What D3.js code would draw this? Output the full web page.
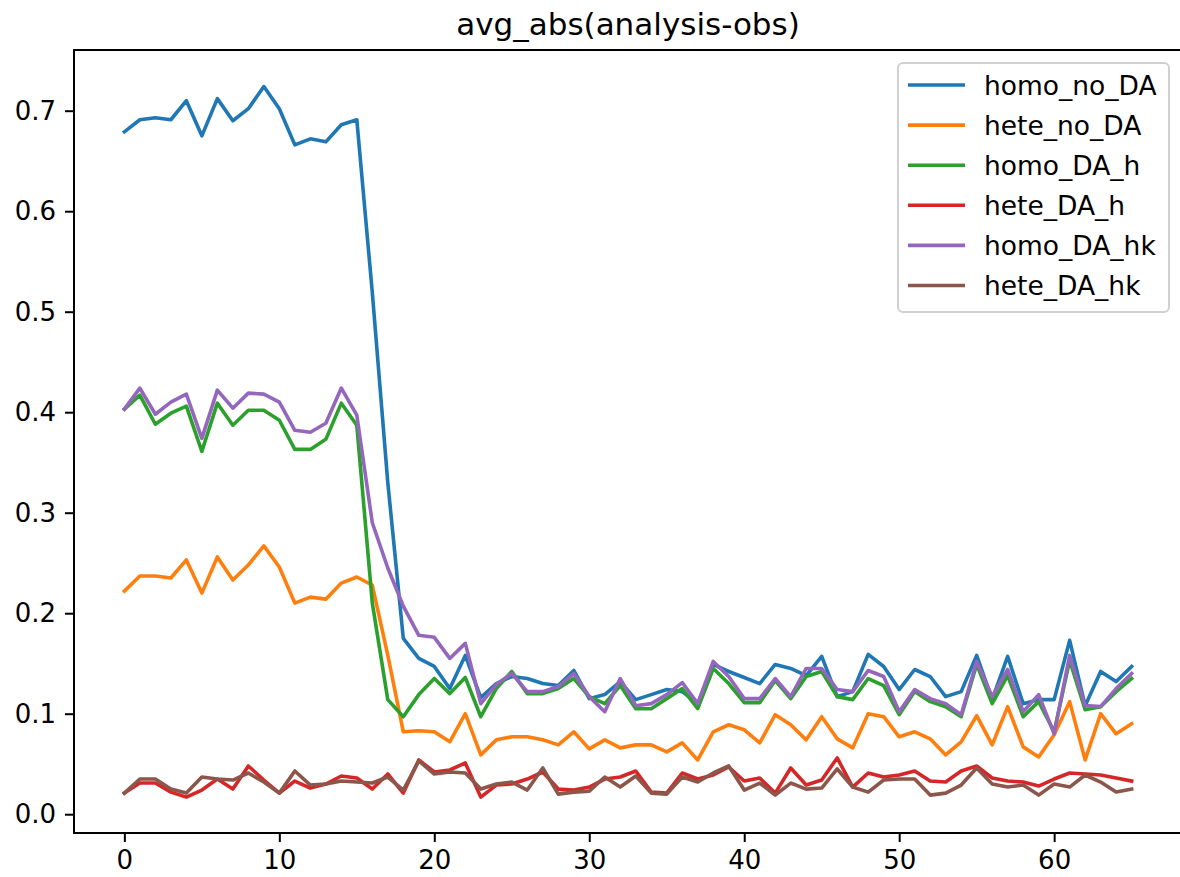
<!DOCTYPE html>
<html>
<head>
<meta charset="utf-8">
<script src="https://cdn.jsdelivr.net/npm/d3@7"></script>
<style>
  body { margin: 0; background: #fff; }
  svg text { font-family: "DejaVu Sans", sans-serif; }
</style>
</head>
<body>
<div id="chart"></div>
<script>
// Data (x = 0..65)
var seriesNames = ["homo_no_DA", "hete_no_DA", "homo_DA_h", "hete_DA_h", "homo_DA_hk", "hete_DA_hk"];
var seriesColors = ["#1f77b4", "#ff7f0e", "#2ca02c", "#d62728", "#9467bd", "#8c564b"];

var homoNoDA = [0.679, 0.691, 0.693, 0.691, 0.710, 0.675, 0.712, 0.690, 0.702, 0.724,
    0.702, 0.666, 0.672, 0.669, 0.686, 0.691, 0.519, 0.330, 0.175, 0.155,
    0.147, 0.125, 0.158, 0.116, 0.130, 0.137, 0.135, 0.130, 0.128, 0.143,
    0.115, 0.119, 0.132, 0.114, 0.119, 0.124, 0.122, 0.110, 0.149, 0.142,
    0.136, 0.130, 0.149, 0.145, 0.138, 0.157, 0.117, 0.122, 0.159, 0.147,
    0.124, 0.144, 0.137, 0.117, 0.122, 0.158, 0.114, 0.157, 0.110, 0.114,
    0.114, 0.173, 0.108, 0.142, 0.132, 0.147];

var heteNoDA = [0.222, 0.237, 0.237, 0.235, 0.253, 0.220, 0.256, 0.233, 0.248, 0.267,
    0.246, 0.210, 0.216, 0.214, 0.230, 0.236, 0.228, 0.158, 0.082, 0.083,
    0.082, 0.072, 0.100, 0.059, 0.074, 0.077, 0.077, 0.074, 0.069, 0.082,
    0.065, 0.074, 0.066, 0.069, 0.069, 0.062, 0.071, 0.054, 0.082, 0.089,
    0.084, 0.071, 0.099, 0.089, 0.074, 0.097, 0.075, 0.066, 0.100, 0.097,
    0.077, 0.082, 0.075, 0.059, 0.072, 0.098, 0.069, 0.107, 0.067, 0.057,
    0.079, 0.112, 0.054, 0.100, 0.080, 0.090];

var homoDAh = [0.403, 0.417, 0.388, 0.399, 0.406, 0.361, 0.409, 0.387, 0.402, 0.402,
    0.392, 0.363, 0.363, 0.373, 0.409, 0.387, 0.210, 0.114, 0.097, 0.119,
    0.135, 0.120, 0.136, 0.097, 0.125, 0.142, 0.120, 0.120, 0.125, 0.135,
    0.117, 0.110, 0.128, 0.105, 0.105, 0.115, 0.125, 0.105, 0.145, 0.130,
    0.111, 0.111, 0.133, 0.115, 0.137, 0.142, 0.117, 0.114, 0.135, 0.128,
    0.099, 0.122, 0.112, 0.107, 0.097, 0.149, 0.110, 0.138, 0.097, 0.112,
    0.082, 0.153, 0.104, 0.107, 0.122, 0.135];

var heteDAh = [0.021, 0.031, 0.031, 0.022, 0.017, 0.024, 0.035, 0.025, 0.048, 0.034,
    0.021, 0.033, 0.026, 0.030, 0.038, 0.036, 0.025, 0.040, 0.021, 0.054,
    0.042, 0.044, 0.051, 0.017, 0.029, 0.030, 0.035, 0.042, 0.025, 0.024,
    0.027, 0.035, 0.037, 0.043, 0.022, 0.021, 0.041, 0.035, 0.039, 0.047,
    0.033, 0.036, 0.021, 0.046, 0.029, 0.034, 0.056, 0.027, 0.041, 0.037,
    0.039, 0.043, 0.033, 0.032, 0.043, 0.048, 0.036, 0.033, 0.032, 0.028,
    0.035, 0.041, 0.040, 0.039, 0.036, 0.033];

var homoDAhk = [0.403, 0.424, 0.398, 0.410, 0.418, 0.374, 0.422, 0.404, 0.419, 0.418,
    0.410, 0.382, 0.380, 0.389, 0.424, 0.397, 0.290, 0.245, 0.207, 0.178,
    0.176, 0.155, 0.170, 0.110, 0.129, 0.140, 0.122, 0.122, 0.127, 0.140,
    0.117, 0.102, 0.135, 0.108, 0.110, 0.119, 0.131, 0.110, 0.152, 0.137,
    0.115, 0.115, 0.135, 0.117, 0.145, 0.145, 0.124, 0.122, 0.143, 0.137,
    0.102, 0.124, 0.115, 0.110, 0.099, 0.152, 0.117, 0.144, 0.102, 0.119,
    0.080, 0.158, 0.108, 0.107, 0.125, 0.140];

var heteDAhk = [0.021, 0.035, 0.035, 0.025, 0.021, 0.037, 0.035, 0.034, 0.041, 0.032,
    0.021, 0.043, 0.029, 0.030, 0.033, 0.032, 0.031, 0.037, 0.024, 0.053,
    0.040, 0.042, 0.041, 0.025, 0.030, 0.032, 0.024, 0.046, 0.020, 0.022,
    0.023, 0.037, 0.027, 0.038, 0.021, 0.020, 0.037, 0.032, 0.041, 0.048,
    0.024, 0.031, 0.019, 0.031, 0.025, 0.026, 0.045, 0.027, 0.022, 0.034,
    0.035, 0.035, 0.019, 0.021, 0.029, 0.046, 0.030, 0.027, 0.029, 0.019,
    0.030, 0.027, 0.039, 0.032, 0.022, 0.025];

var xTicks = [0, 10, 20, 30, 40, 50, 60];
var yTicks = [0.0, 0.1, 0.2, 0.3, 0.4, 0.5, 0.6, 0.7];
var chartTitle = "avg_abs(analysis-obs)";

function drawLineChart() {
    var allSeries = [homoNoDA, heteNoDA, homoDAh, heteDAh, homoDAhk, heteDAhk];

    var width = 1180, height = 877;
    // axes box (right spine falls just outside the picture, as in the reference)
    var plot = {left: 74, top: 50, right: 1182, bottom: 833};

    var svg = d3.select("#chart").append("svg")
        .attr("width", width)
        .attr("height", height);

    var xScale = d3.scaleLinear()
        .domain([-3.25, 68.25])
        .range([plot.left, plot.right]);

    var yScale = d3.scaleLinear()
        .domain([-0.0187, 0.7604])
        .range([plot.bottom, plot.top]);

    // Lines
    var line = d3.line()
        .x(function(d, i) { return xScale(i); })
        .y(function(d) { return yScale(d); });

    svg.append("g").selectAll("path")
        .data(allSeries)
        .enter().append("path")
        .attr("d", line)
        .attr("fill", "none")
        .attr("stroke", function(d, i) { return seriesColors[i]; })
        .attr("stroke-width", 3.6)
        .attr("stroke-linejoin", "round")
        .attr("stroke-linecap", "square");

    // Axes
    var xAxis = svg.append("g")
        .attr("transform", "translate(0," + plot.bottom + ")")
        .call(d3.axisBottom(xScale).tickValues(xTicks).tickSize(9).tickPadding(9));

    var yAxis = svg.append("g")
        .attr("transform", "translate(" + plot.left + ",0)")
        .call(d3.axisLeft(yScale).tickValues(yTicks).tickFormat(d3.format(".1f")).tickSize(9).tickPadding(9));

    [xAxis, yAxis].forEach(function(ax) {
        ax.select(".domain").remove();
        ax.selectAll(".tick line").attr("stroke", "#000").attr("stroke-width", 2);
        ax.selectAll(".tick text")
            .attr("fill", "#000")
            .style("font-size", "26px");
    });

    // Spines
    svg.append("rect")
        .attr("x", plot.left)
        .attr("y", plot.top)
        .attr("width", plot.right - plot.left)
        .attr("height", plot.bottom - plot.top)
        .attr("fill", "none")
        .attr("stroke", "#000")
        .attr("stroke-width", 2);

    // Title
    svg.append("text")
        .attr("x", (plot.left + plot.right) / 2)
        .attr("y", 35)
        .attr("text-anchor", "middle")
        .style("font-size", "31px")
        .text(chartTitle);

    // Legend
    var legend = svg.append("g");
    legend.append("rect")
        .attr("x", 898)
        .attr("y", 63)
        .attr("width", 271)
        .attr("height", 249)
        .attr("rx", 5)
        .attr("fill", "#fff")
        .attr("fill-opacity", 0.8)
        .attr("stroke", "#d0d0d0")
        .attr("stroke-width", 2);

    var rows = legend.selectAll(".entry")
        .data(seriesNames)
        .enter().append("g")
        .attr("class", "entry")
        .attr("transform", function(d, i) { return "translate(0," + (85 + i * 40.1) + ")"; });

    rows.append("line")
        .attr("x1", 908)
        .attr("x2", 965)
        .attr("stroke", function(d, i) { return seriesColors[i]; })
        .attr("stroke-width", 3.6);

    rows.append("text")
        .attr("x", 984)
        .attr("dy", "0.36em")
        .style("font-size", "26.5px")
        .text(function(d) { return d; });
}

drawLineChart();
</script>
</body>
</html>
